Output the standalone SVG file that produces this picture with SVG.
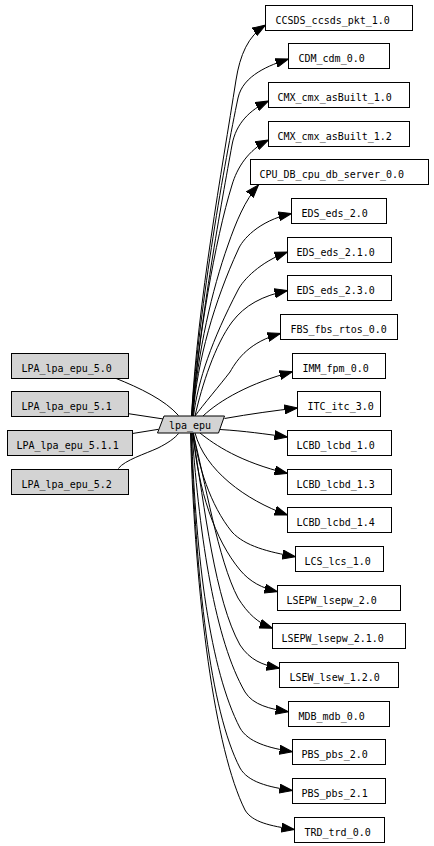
<svg xmlns="http://www.w3.org/2000/svg" width="434" height="846" viewBox="0 0 434 846">
<style>
.n rect{fill:#ffffff;stroke:#000;stroke-width:1}
.g rect,.g polygon{fill:#d3d3d3;stroke:#000;stroke-width:1}
text{font-family:"DejaVu Sans Mono","Liberation Mono",monospace;font-size:10px;fill:#000}
#edges path{fill:none;stroke:#000;stroke-width:1}
#edges path.a{marker-end:url(#ah)}
</style>
<defs>
<marker id="ah" markerUnits="userSpaceOnUse" markerWidth="14" markerHeight="10" refX="13" refY="5" orient="auto" viewBox="0 0 14 10">
<path d="M0,0.5 L13,5 L0,9.5 Z" fill="#000" stroke="#000" stroke-width="1"/>
</marker>
</defs>
<rect width="434" height="846" fill="#fff"/>
<g id="edges">
<path d="M115,378 C140,388 165,400 178.5,415.5"/>
<path d="M128.5,413.7 L163.5,419"/>
<path d="M132.5,433.5 L158.5,429.3"/>
<path d="M118.3,468.5 C125,460 145,454 158,448 C168,443 175,438 178.5,433.5"/>
<path class="a" d="M191.5,416 C198,300 222,170 236,80 C240,55 248,36 265.5,25"/>
<path class="a" d="M191.5,416 C200,300 225,160 238,98 C243,75 270,65 288.5,59"/>
<path class="a" d="M192,416 C200,320 222,200 232,145 C236,123 250,110 268.5,101"/>
<path class="a" d="M192,416 C198,340 215,240 232,185 C237,168 248,150 268.5,140"/>
<path class="a" d="M192.5,416 C198,350 212,290 228,245 C236,222 245,200 258.5,185"/>
<path class="a" d="M193,416 C197,360 215,300 238,250 C242,240 258,221 291.5,213.5"/>
<path class="a" d="M193.5,416 C198,380 212,340 238,290 C243,280 260,262 287.5,252"/>
<path class="a" d="M195,416 C202,385 215,345 232,322 C245,305 262,296 287.5,290.5"/>
<path class="a" d="M195,416 C203,405 220,385 230,372 C238,358 250,342 280.5,333.5"/>
<path class="a" d="M203,416 C220,400 250,383 292.5,371.7"/>
<path class="a" d="M224.5,418.5 C250,414 275,410.5 297.5,408"/>
<path class="a" d="M220,429.5 C245,431 265,434 287.5,437"/>
<path class="a" d="M200,433 C215,445 240,462 287.5,473.5"/>
<path class="a" d="M195,433 C205,470 245,500 287.5,515"/>
<path class="a" d="M193.5,433 C198,465 210,505 232,532 C245,546 268,552 295.5,556.7"/>
<path class="a" d="M193,433 C198,490 215,540 240,570 C250,582 262,588 277.5,591.7"/>
<path class="a" d="M193,433 C205,480 218,560 238,598 C248,614 258,623 272.5,628.3"/>
<path class="a" d="M192.5,433 C205,510 215,600 240,645 C250,660 262,665 279.5,668.3"/>
<path class="a" d="M192,433 C200,540 215,640 245,692 C253,705 270,709 288.5,711.7"/>
<path class="a" d="M191.5,433 C196,560 210,670 240,728 C248,742 268,748 292.5,751.7"/>
<path class="a" d="M191,433 C196,580 210,710 240,768 C248,782 268,787 292.5,790.5"/>
<path class="a" d="M190.5,433 C195,600 215,750 245,810 C252,822 270,826 294.5,829.5"/>
</g>
<g id="lpa_epu" class="g"><polygon points="164,416 224.5,416 218.5,433 157.5,433"/><text x="169" y="429">lpa_epu</text></g>
<g id="LPA_lpa_epu_5.0" class="g"><rect x="11.5" y="353.5" width="117" height="25"/><text x="21.5" y="371.5">LPA_lpa_epu_5.0</text></g>
<g id="LPA_lpa_epu_5.1" class="g"><rect x="11.5" y="391.5" width="117" height="25"/><text x="21.5" y="409.5">LPA_lpa_epu_5.1</text></g>
<g id="LPA_lpa_epu_5.1.1" class="g"><rect x="7.5" y="430.5" width="125" height="25"/><text x="16.5" y="448.5">LPA_lpa_epu_5.1.1</text></g>
<g id="LPA_lpa_epu_5.2" class="g"><rect x="11.5" y="469.5" width="117" height="25"/><text x="21.5" y="487.5">LPA_lpa_epu_5.2</text></g>
<g id="CCSDS_ccsds_pkt_1.0" class="n"><rect x="265.5" y="5.5" width="147" height="25"/><text x="275.5" y="23.5">CCSDS_ccsds_pkt_1.0</text></g>
<g id="CDM_cdm_0.0" class="n"><rect x="288.5" y="43.5" width="101" height="25"/><text x="298.5" y="61.5">CDM_cdm_0.0</text></g>
<g id="CMX_cmx_asBuilt_1.0" class="n"><rect x="268.5" y="82.5" width="141" height="25"/><text x="277.5" y="100.5">CMX_cmx_asBuilt_1.0</text></g>
<g id="CMX_cmx_asBuilt_1.2" class="n"><rect x="268.5" y="121.5" width="141" height="25"/><text x="277.5" y="139.5">CMX_cmx_asBuilt_1.2</text></g>
<g id="CPU_DB_cpu_db_server_0.0" class="n"><rect x="250.5" y="159.5" width="178" height="25"/><text x="259.5" y="177.5">CPU_DB_cpu_db_server_0.0</text></g>
<g id="EDS_eds_2.0" class="n"><rect x="291.5" y="198.5" width="95" height="25"/><text x="301.5" y="216.5">EDS_eds_2.0</text></g>
<g id="EDS_eds_2.1.0" class="n"><rect x="287.5" y="237.5" width="104" height="25"/><text x="296.5" y="255.5">EDS_eds_2.1.0</text></g>
<g id="EDS_eds_2.3.0" class="n"><rect x="287.5" y="275.5" width="104" height="25"/><text x="296.5" y="293.5">EDS_eds_2.3.0</text></g>
<g id="FBS_fbs_rtos_0.0" class="n"><rect x="280.5" y="314.5" width="117" height="25"/><text x="290.5" y="332.5">FBS_fbs_rtos_0.0</text></g>
<g id="IMM_fpm_0.0" class="n"><rect x="292.5" y="353.5" width="93" height="25"/><text x="302.5" y="371.5">IMM_fpm_0.0</text></g>
<g id="ITC_itc_3.0" class="n"><rect x="297.5" y="391.5" width="83" height="25"/><text x="307.5" y="409.5">ITC_itc_3.0</text></g>
<g id="LCBD_lcbd_1.0" class="n"><rect x="287.5" y="430.5" width="104" height="25"/><text x="296.5" y="448.5">LCBD_lcbd_1.0</text></g>
<g id="LCBD_lcbd_1.3" class="n"><rect x="287.5" y="469.5" width="104" height="25"/><text x="296.5" y="487.5">LCBD_lcbd_1.3</text></g>
<g id="LCBD_lcbd_1.4" class="n"><rect x="287.5" y="507.5" width="104" height="25"/><text x="296.5" y="525.5">LCBD_lcbd_1.4</text></g>
<g id="LCS_lcs_1.0" class="n"><rect x="295.5" y="546.5" width="88" height="25"/><text x="304.5" y="564.5">LCS_lcs_1.0</text></g>
<g id="LSEPW_lsepw_2.0" class="n"><rect x="277.5" y="585.5" width="123" height="25"/><text x="286.5" y="603.5">LSEPW_lsepw_2.0</text></g>
<g id="LSEPW_lsepw_2.1.0" class="n"><rect x="272.5" y="623.5" width="133" height="25"/><text x="281.5" y="641.5">LSEPW_lsepw_2.1.0</text></g>
<g id="LSEW_lsew_1.2.0" class="n"><rect x="279.5" y="662.5" width="119" height="25"/><text x="289.5" y="680.5">LSEW_lsew_1.2.0</text></g>
<g id="MDB_mdb_0.0" class="n"><rect x="288.5" y="701.5" width="101" height="25"/><text x="298.5" y="719.5">MDB_mdb_0.0</text></g>
<g id="PBS_pbs_2.0" class="n"><rect x="292.5" y="739.5" width="93" height="25"/><text x="301.5" y="757.5">PBS_pbs_2.0</text></g>
<g id="PBS_pbs_2.1" class="n"><rect x="292.5" y="778.5" width="93" height="25"/><text x="301.5" y="796.5">PBS_pbs_2.1</text></g>
<g id="TRD_trd_0.0" class="n"><rect x="294.5" y="817.5" width="90" height="25"/><text x="304.5" y="835.5">TRD_trd_0.0</text></g>
</svg>
